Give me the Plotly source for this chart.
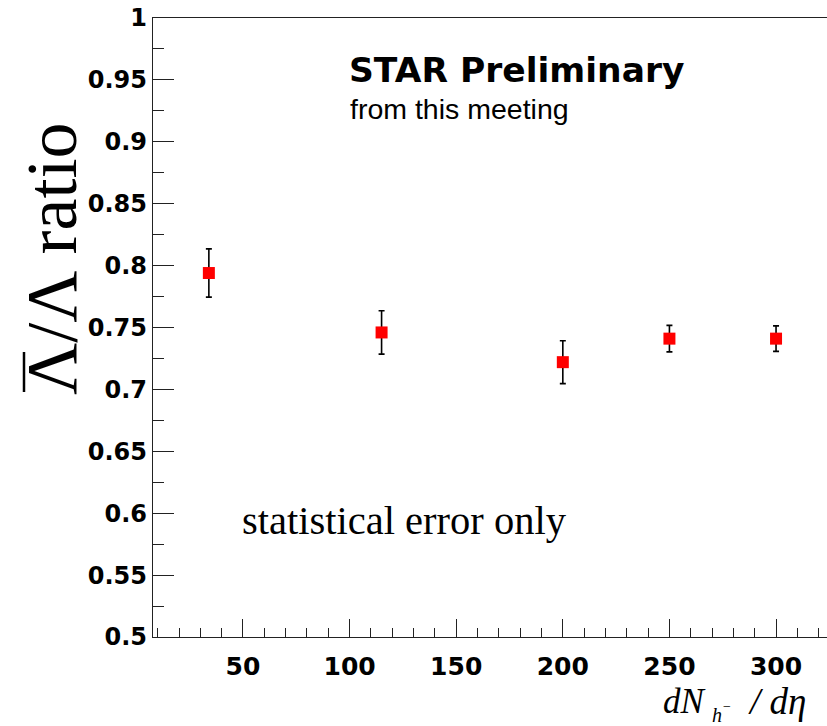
import plotly.graph_objects as go

# ---- data ----
multiplicity = [34, 115, 200, 250, 300]          # dN_h-/deta
ratio = [0.794, 0.746, 0.722, 0.741, 0.741]       # anti-Lambda / Lambda
stat_err = [0.0195, 0.0175, 0.0173, 0.0107, 0.0103]
y_tick_vals = [0.5, 0.55, 0.6, 0.65, 0.7, 0.75, 0.8, 0.85, 0.9, 0.95, 1.0]
y_tick_text = ["0.5", "0.55", "0.6", "0.65", "0.7", "0.75", "0.8", "0.85", "0.9", "0.95", "1"]
x_tick_vals = [50, 100, 150, 200, 250, 300]
x_tick_text = ["50", "100", "150", "200", "250", "300"]

W, H = 827, 726
L, R, T, B = 153, 0, 18, 89
PW, PH = W - L - R, H - T - B


def px(xp):
    return (xp - L) / PW


def py(yp):
    return (H - B - yp) / PH


fig = go.Figure()
fig.add_trace(go.Scatter(
    x=multiplicity, y=ratio, mode="markers",
    marker=dict(symbol="square", size=12, color="#ff0000", line=dict(width=0)),
    error_y=dict(type="data", array=stat_err, visible=True, color="black",
                 thickness=1.6, width=3),
    showlegend=False,
))

tickfont = dict(family="DejaVu Sans", size=24, color="black", weight="bold")
xtickfont = dict(family="DejaVu Sans", size=25, color="black", weight="bold")
axcol = "#222222"

fig.update_layout(
    width=W, height=H,
    margin=dict(l=L, r=R, t=T, b=B, pad=0),
    paper_bgcolor="white", plot_bgcolor="white",
    xaxis=dict(
        range=[7.8, 323.9], showgrid=False, zeroline=False,
        showline=True, linecolor=axcol, linewidth=1.4, mirror=True,
        ticks="inside", ticklen=18, tickwidth=1.4, tickcolor=axcol,
        tickvals=x_tick_vals, ticktext=x_tick_text, tickfont=xtickfont,
        ticklabelstandoff=7,
        minor=dict(dtick=10, tick0=0, ticks="inside", ticklen=9,
                   tickwidth=1.4, tickcolor=axcol, showgrid=False),
    ),
    yaxis=dict(
        range=[0.5, 1.0], showgrid=False, zeroline=False,
        showline=True, linecolor=axcol, linewidth=1.4, mirror=False,
        ticks="inside", ticklen=21, tickwidth=1.4, tickcolor=axcol,
        tickvals=y_tick_vals, ticktext=y_tick_text, tickfont=tickfont,
        minor=dict(dtick=0.025, tick0=0.5, ticks="inside", ticklen=11,
                   tickwidth=1.4, tickcolor=axcol, showgrid=False),
    ),
)

serif = "Liberation Serif"
ann = []
ann.append(dict(text="Λ/Λ ratio", x=px(52), y=py(258), xref="paper", yref="paper",
                xanchor="center", yanchor="middle", textangle=-90, showarrow=False,
                font=dict(family=serif, size=72, color="black")))
ann.append(dict(text="STAR Preliminary", x=px(347), y=py(70), xref="paper", yref="paper",
                xanchor="left", yanchor="middle", showarrow=False,
                font=dict(family="DejaVu Sans", size=34.5, color="black", weight="bold")))
ann.append(dict(text="from this meeting", x=px(348), y=py(109), xref="paper", yref="paper",
                xanchor="left", yanchor="middle", showarrow=False,
                font=dict(family="Liberation Sans", size=28.5, color="black")))
ann.append(dict(text="statistical error only", x=px(240), y=py(520), xref="paper", yref="paper",
                xanchor="left", yanchor="middle", showarrow=False,
                font=dict(family=serif, size=40.5, color="black")))
# x-axis title: dN_{h^-} / d eta
ann.append(dict(text="<i>dN</i>", x=px(661), y=py(701), xref="paper", yref="paper",
                xanchor="left", yanchor="middle", showarrow=False,
                font=dict(family=serif, size=35, color="black")))
ann.append(dict(text="<i>h</i>", x=px(710), y=py(715), xref="paper", yref="paper",
                xanchor="left", yanchor="middle", showarrow=False,
                font=dict(family=serif, size=20, color="black")))
ann.append(dict(text="\u2212", x=px(721), y=py(706), xref="paper", yref="paper",
                xanchor="left", yanchor="middle", showarrow=False,
                font=dict(family=serif, size=14, color="black")))
ann.append(dict(text="<i>/ dη</i>", x=px(746), y=py(701), xref="paper", yref="paper",
                xanchor="left", yanchor="middle", showarrow=False,
                font=dict(family=serif, size=37, color="black")))
fig.update_layout(annotations=ann)

# overbar of the anti-Lambda in the rotated y title
fig.add_shape(type="line", xref="paper", yref="paper",
              x0=px(24), x1=px(24), y0=py(352), y1=py(392),
              line=dict(color="black", width=2.5))

fig.write_html("out.html")
